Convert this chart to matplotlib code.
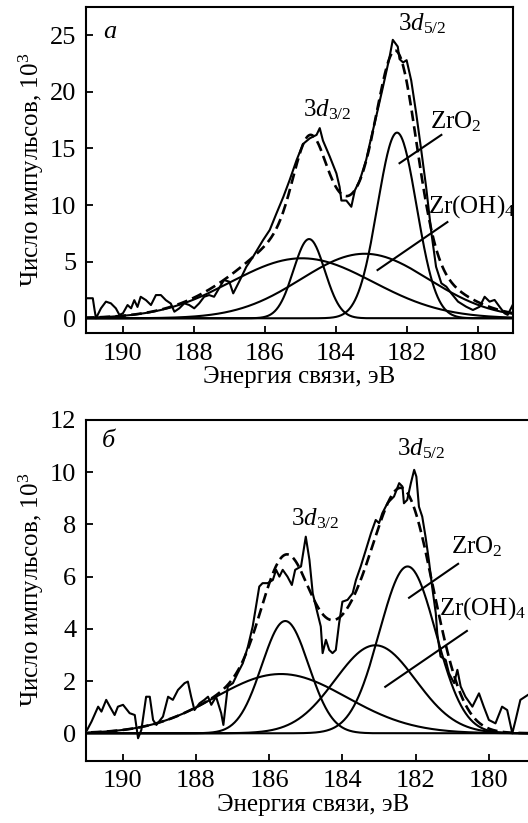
import numpy as np
import matplotlib
matplotlib.use("Agg")
import matplotlib.pyplot as plt

plt.rcParams['font.family'] = ['Liberation Serif', 'DejaVu Serif']
plt.rcParams['mathtext.fontset'] = 'custom'
plt.rcParams['mathtext.rm'] = 'Liberation Serif'
plt.rcParams['mathtext.it'] = 'Liberation Serif:italic'

# --- panel a: Zr 3d spectrum ---
energy_a = [191.0, 190.85, 190.8, 190.76, 190.62, 190.48, 190.34, 190.2, 190.1, 190.0,
            189.87, 189.77, 189.68, 189.59, 189.5, 189.35, 189.21, 189.07, 188.93, 188.79,
            188.65, 188.55, 188.41, 188.27, 188.13, 187.99, 187.85, 187.71, 187.57, 187.43,
            187.29, 187.15, 187.0, 186.89, 186.7, 186.52, 186.33, 186.05, 185.86, 185.67,
            185.48, 185.3, 185.1, 184.92, 184.73, 184.54, 184.45, 184.36, 184.17, 183.98,
            183.89, 183.84, 183.7, 183.56, 183.46, 183.32, 183.14, 183.04, 182.86, 182.67,
            182.48, 182.39, 182.25, 182.2, 182.1, 182.0, 181.87, 181.73, 181.59, 181.45,
            181.3, 181.17, 181.02, 180.88, 180.74, 180.55, 180.32, 180.13, 179.94, 179.8,
            179.66, 179.52, 179.38, 179.24, 179.15, 179.01]
counts_a = [1.77, 1.77, 0.73, 0.0, 0.88, 1.47, 1.32, 0.88, 0.3, 0.44,
            1.17, 0.88, 1.6, 1.0, 1.9, 1.6, 1.17, 2.05, 2.05, 1.6,
            1.3, 0.58, 0.88, 1.32, 1.17, 0.88, 1.32, 1.9, 2.05, 1.9,
            2.65, 3.38, 3.23, 2.2, 3.38, 4.55, 5.44, 6.9, 7.8, 9.27,
            10.7, 12.2, 14.0, 15.4, 15.9, 16.2, 16.8, 15.7, 14.3, 12.8,
            11.6, 10.4, 10.4, 9.85, 11.3, 12.2, 14.0, 15.4, 17.8, 20.4,
            23.1, 24.6, 24.0, 22.9, 22.6, 22.8, 21.0, 18.1, 14.9, 11.6,
            7.5, 4.55, 3.09, 2.79, 2.2, 1.47, 1.02, 0.73, 1.02, 1.9,
            1.47, 1.62, 1.02, 0.44, 0.3, 1.17]
# fitted peaks: ZrO2 3d3/2, ZrO2 3d5/2, Zr(OH)4 3d3/2, Zr(OH)4 3d5/2
centers_a = [184.75, 182.27, 184.95, 183.18]
heights_a = [7.0, 16.4, 5.3, 5.7]
sigmas_a = [0.44, 0.55, 2.0, 1.8]

# --- panel б ---
energy_b = [190.97, 190.85, 190.67, 190.58, 190.45, 190.35, 190.22, 190.13, 189.99, 189.81,
            189.67, 189.58, 189.49, 189.36, 189.26, 189.17, 189.08, 188.9, 188.76, 188.63,
            188.49, 188.4, 188.31, 188.22, 188.13, 188.04, 187.9, 187.77, 187.67, 187.58,
            187.45, 187.31, 187.25, 187.13, 186.99, 186.86, 186.72, 186.58, 186.45, 186.36,
            186.27, 186.18, 186.04, 185.9, 185.81, 185.72, 185.63, 185.5, 185.38, 185.29,
            185.13, 185.0, 184.9, 184.81, 184.68, 184.59, 184.54, 184.45, 184.36, 184.27,
            184.18, 184.09, 184.0, 183.86, 183.72, 183.63, 183.5, 183.36, 183.22, 183.09,
            183.0, 182.91, 182.77, 182.59, 182.45, 182.36, 182.32, 182.23, 182.13, 182.04,
            181.98, 181.91, 181.82, 181.73, 181.64, 181.55, 181.45, 181.41, 181.32, 181.18,
            181.09, 180.95, 180.86, 180.77, 180.64, 180.45, 180.27, 180.14, 180.0, 179.82,
            179.64, 179.5, 179.36, 179.27, 179.14, 178.9]
counts_b = [0.13, 0.45, 1.02, 0.83, 1.28, 1.02, 0.7, 1.02, 1.09, 0.77,
            0.7, -0.19, 0.13, 1.4, 1.4, 0.51, 0.32, 0.64, 1.4, 1.28,
            1.66, 1.79, 1.92, 1.98, 1.4, 0.89, 1.15, 1.28, 1.4, 1.09,
            1.4, 0.77, 0.32, 1.79, 1.92, 2.3, 2.68, 3.32, 4.09, 4.85,
            5.62, 5.75, 5.75, 5.87, 6.26, 6.0, 6.26, 6.0, 5.68, 6.26,
            6.39, 7.53, 6.64, 5.36, 4.6, 4.09, 3.07, 3.58, 3.19, 3.07,
            3.19, 4.21, 5.04, 5.11, 5.36, 5.87, 6.39, 7.02, 7.66, 8.17,
            8.05, 8.43, 8.81, 9.07, 9.58, 9.45, 8.81, 8.94, 9.58, 10.09,
            9.83, 8.68, 8.3, 7.53, 6.64, 5.62, 4.6, 3.83, 2.94, 2.81,
            2.3, 1.92, 2.43, 1.79, 1.4, 1.02, 1.53, 1.02, 0.51, 0.38,
            1.02, 0.89, 0.0, 0.51, 1.28, 1.5]
centers_b = [185.56, 182.22, 185.68, 183.1]
heights_b = [4.3, 6.39, 2.27, 3.37]
sigmas_b = [0.64, 0.77, 1.8, 1.1]


def gauss(x, c, h, s):
    return h * np.exp(-(x - c) ** 2 / (2 * s ** 2))


def draw_panel(ax, energy, counts, centers, heights, sigmas, xlim, ylim, yticks):
    """
    Draws spectrum, fitted components and their sum (dashed).
    """
    x = np.linspace(178.3, 191.5, 800)
    total = np.zeros_like(x)
    for c, h, s in zip(centers, heights, sigmas):
        y = gauss(x, c, h, s)
        total += y
        ax.plot(x, y, color='black', lw=1.5)
    ax.plot(x, total, color='black', lw=1.9, ls=(0, (4, 2)))
    ax.plot(energy, counts, color='black', lw=1.5)
    ax.set_xlim(*xlim)
    ax.set_ylim(*ylim)
    ax.set_xticks([190, 188, 186, 184, 182, 180])
    ax.set_yticks(yticks)
    ax.tick_params(direction='in', length=5, width=1.3, labelsize=19, pad=7)
    for sp in ax.spines.values():
        sp.set_linewidth(1.5)
    ax.set_xlabel('Энергия связи, эВ', fontsize=18, labelpad=1)
    ax.set_ylabel('Число импульсов, 10$^3$', fontsize=18, labelpad=3)


fig = plt.figure(figsize=(5.28, 8.23), dpi=100)

ax1 = fig.add_axes([0.163, 0.5954, 0.8086, 0.3961])
draw_panel(ax1, energy_a, counts_a, centers_a, heights_a, sigmas_a,
           (191.04, 179.0), (-1.3, 27.5), [0, 5, 10, 15, 20, 25])
ax1.text(190.56, 24.8, 'а', fontsize=19, style='italic')
ax1.text(184.93, 17.8, r'$\mathrm{3}d_{\mathrm{3/2}}$', fontsize=18)
ax1.text(182.25, 25.4, r'$\mathrm{3}d_{\mathrm{5/2}}$', fontsize=18)
ax1.text(181.35, 16.8, r'ZrO$_2$', fontsize=18)
ax1.text(181.4, 9.3, r'Zr(OH)$_4$', fontsize=18)
ax1.plot([182.2, 181.02], [13.7, 16.2], color='black', lw=1.5)
ax1.plot([182.82, 180.85], [4.26, 8.5], color='black', lw=1.5)

ax2 = fig.add_axes([0.163, 0.0757, 0.86, 0.414])
draw_panel(ax2, energy_b, counts_b, centers_b, heights_b, sigmas_b,
           (191.0, 178.6), (-1.05, 12.0), [0, 2, 4, 6, 8, 10, 12])
ax2.text(190.57, 10.97, 'б', fontsize=19, style='italic')
ax2.text(185.4, 7.98, r'$\mathrm{3}d_{\mathrm{3/2}}$', fontsize=18)
ax2.text(182.5, 10.66, r'$\mathrm{3}d_{\mathrm{5/2}}$', fontsize=18)
ax2.text(181.04, 6.9, r'ZrO$_2$', fontsize=18)
ax2.text(181.36, 4.53, r'Zr(OH)$_4$', fontsize=18)
ax2.plot([182.18, 180.84], [5.19, 6.49], color='black', lw=1.5)
ax2.plot([182.83, 180.6], [1.78, 3.92], color='black', lw=1.5)

fig.savefig('out.png', dpi=100)
